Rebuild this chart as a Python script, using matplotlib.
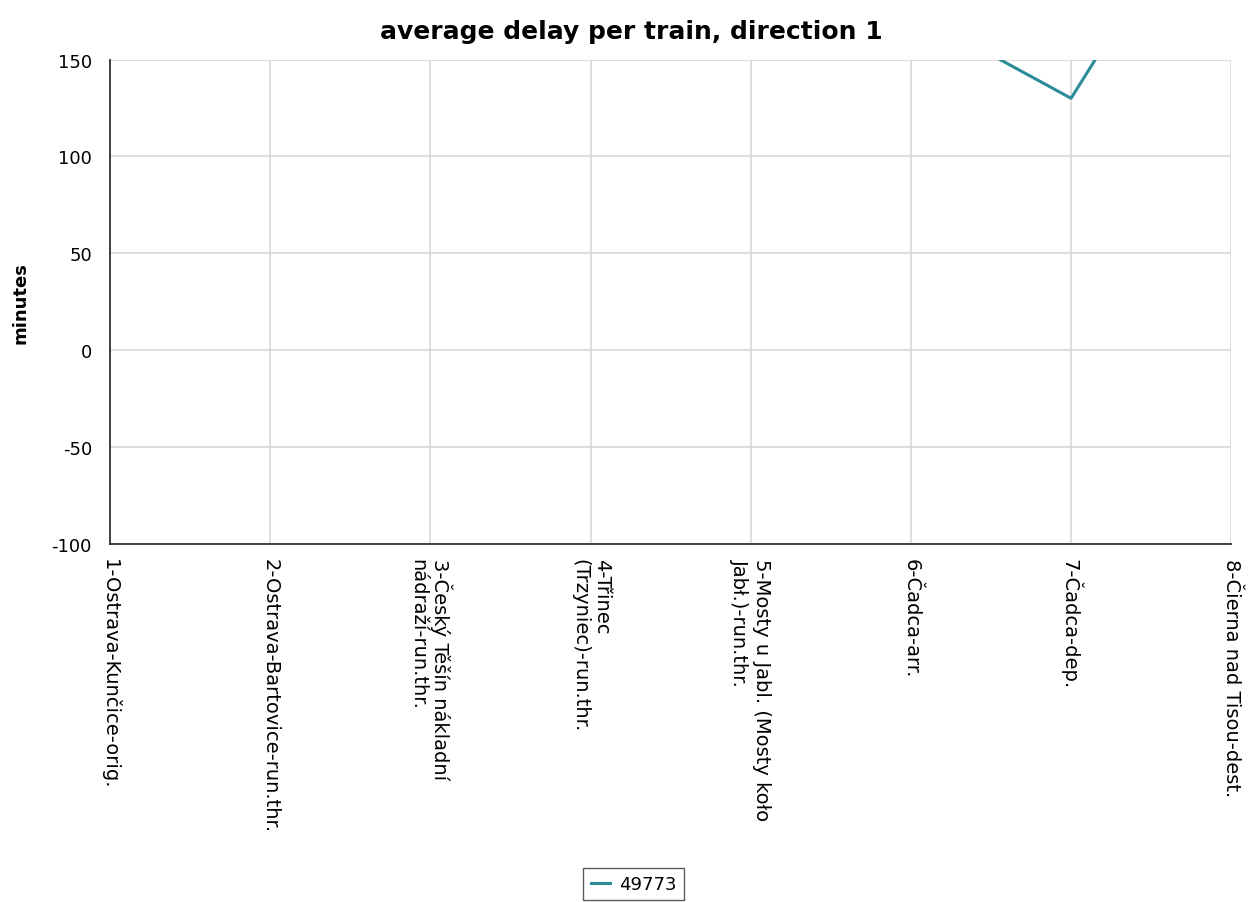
import numpy as np
import matplotlib
matplotlib.use("Agg")
import matplotlib.pyplot as plt

plt.rcParams["axes.unicode_minus"] = False

stations = [
    "1-Ostrava-Kunčice-orig.",
    "2-Ostrava-Bartovice-run.thr.",
    "3-Český Těšín nákladní\nnádraží-run.thr.",
    "4-Třinec\n(Trzyniec)-run.thr.",
    "5-Mosty u Jabl. (Mosty koło\nJabł.)-run.thr.",
    "6-Čadca-arr.",
    "7-Čadca-dep.",
    "8-Čierna nad Tisou-dest.",
]
# only the part inside the visible range can be read; earlier points are off the chart
delay_49773 = [np.nan, np.nan, np.nan, np.nan, np.nan, 175, 130, 262]
yticks = [-100, -50, 0, 50, 100, 150]

fig = plt.figure(figsize=(12.5, 9.03), dpi=100)
ax = fig.add_axes([0.088, 0.396, 0.897, 0.537])

x = np.arange(1, len(stations) + 1)
ax.plot(x, delay_49773, color="#2b8b99", linewidth=2.2, label="49773")

ax.set_xlim(1, len(stations))
ax.set_ylim(-100, 150)
ax.set_yticks(yticks)
ax.set_xticks(x)
ax.set_xticklabels(stations, rotation=270, ha="center", va="top",
                   multialignment="left", fontsize=14)
ax.tick_params(axis="y", labelsize=13, length=0, pad=13)
ax.tick_params(axis="x", length=0, pad=10)

ax.grid(True, color="#d4d4d4", linewidth=1.1)
ax.set_axisbelow(True)
for s in ["top", "right"]:
    ax.spines[s].set_visible(False)
ax.spines["left"].set_color("#333333")
ax.spines["bottom"].set_color("#333333")
ax.spines["left"].set_linewidth(1.3)
ax.spines["bottom"].set_linewidth(1.3)

ax.set_ylabel("minutes", fontsize=13, fontweight="bold", labelpad=16)
fig.suptitle("average delay per train, direction 1", x=0.505, y=0.978,
             va="top", fontsize=18, fontweight="bold")

leg = fig.legend(loc="lower center", bbox_to_anchor=(0.507, -0.008), fontsize=13,
                 frameon=True, fancybox=False, handlelength=1.1,
                 borderpad=0.4, handletextpad=0.5)
leg.get_frame().set_edgecolor("#333333")
leg.get_frame().set_linewidth(1.0)

fig.savefig("out.png", dpi=100)
